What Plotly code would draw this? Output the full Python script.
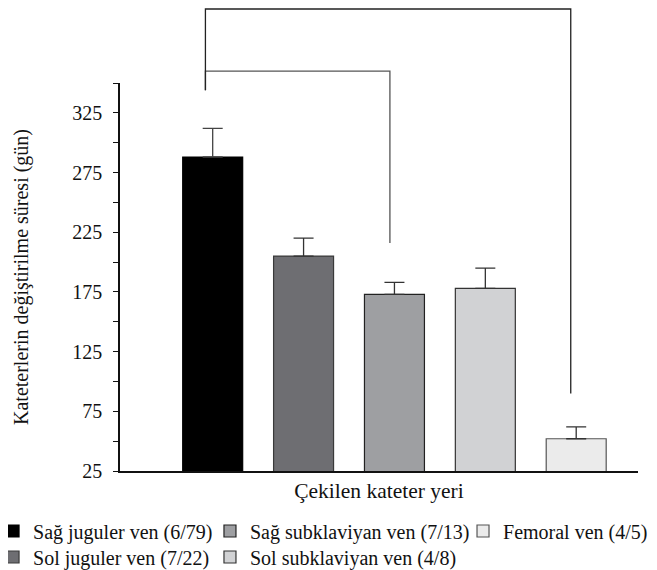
import plotly.graph_objects as go

# ---- data ----
categories = ["Sağ juguler ven (6/79)", "Sol juguler ven (7/22)",
              "Sağ subklaviyan ven (7/13)", "Sol subklaviyan ven (4/8)",
              "Femoral ven (4/5)"]
means = [288, 205, 173, 178, 52]
errors = [24, 15, 10, 17, 10]
bar_colors = ["#000000", "#6e6e72", "#9e9fa2", "#d1d2d4", "#ebebeb"]
line_colors = ["#000000", "#3a3a3a", "#222222", "#333333", "#555555"]

y_major = [25, 75, 125, 175, 225, 275, 325]
y_minor = [50, 100, 150, 200, 250, 300, 350]
y_range = [25, 350]

# significance brackets (x in category units, y in data units)
br_x0 = [-0.08, -0.08]
br_x1 = [1.95, 3.94]
br_top = [360, 412]
br_left_bottom = [344, 344]
br_right_bottom = [216, 90]
br_colors = ["#555555", "#222222"]

# legend placement: (legend id, x paper, y paper)
legend_pos = [("legend", -0.2258, -0.1546), ("legend2", -0.2258, -0.2216),
              ("legend3", 0.1930, -0.1546), ("legend4", 0.1930, -0.2216),
              ("legend5", 0.6815, -0.1546)]

FONT = "Liberation Serif, Tinos, Times New Roman, serif"

fig = go.Figure()
for i, (name, m, e, c, lc) in enumerate(zip(categories, means, errors, bar_colors, line_colors)):
    fig.add_trace(go.Bar(
        x=[i], y=[m], name=name, width=0.66,
        marker=dict(color=c, line=dict(color=lc, width=1.2)),
        error_y=dict(type="data", symmetric=False, array=[e], arrayminus=[0],
                     color="#333333" if i else "#444444", thickness=1.3, width=10),
        legend=legend_pos[i][0],
        hoverinfo="skip",
    ))

def ypap(v):
    return (v - y_range[0]) / (y_range[1] - y_range[0])

shapes = []
for x0, x1, top, lb, rb, col in zip(br_x0, br_x1, br_top, br_left_bottom, br_right_bottom, br_colors):
    path = f"M {x0} {ypap(lb)} L {x0} {ypap(top)} L {x1} {ypap(top)} L {x1} {ypap(rb)}"
    shapes.append(dict(type="path", xref="x", yref="paper", path=path,
                       line=dict(color=col, width=1.3)))

# the page body adds an 8px offset, so the figure is 8px smaller than the window
layout = dict(
    width=649, height=562,
    margin=dict(l=112, r=19, t=75, b=99, autoexpand=False),
    paper_bgcolor="white", plot_bgcolor="white",
    font=dict(family=FONT, size=20, color="#111111"),
    barmode="overlay",
    showlegend=True,
    shapes=shapes,
    xaxis=dict(range=[-1.02, 4.68], showticklabels=False, ticks="", showgrid=False,
               zeroline=False, showline=True, linecolor="#111111", linewidth=1.6,
               title=dict(text="Çekilen kateter yeri", standoff=11,
                          font=dict(family=FONT, size=21.5))),
    yaxis=dict(range=y_range, tickvals=y_major, ticks="outside", ticklen=5,
               tickcolor="#111111", tickwidth=1.3, showgrid=False, zeroline=False,
               showline=True, linecolor="#111111", linewidth=1.6,
               ticklabelstandoff=7,
               minor=dict(tickvals=y_minor, ticks="outside", ticklen=5,
                          tickcolor="#111111", tickwidth=1.3),
               tickfont=dict(family=FONT, size=20),
               title=dict(text="Kateterlerin değiştirilme süresi (gün)", standoff=38,
                          font=dict(family=FONT, size=20))),
)
for lid, lx, ly in legend_pos:
    layout[lid] = dict(x=lx, y=ly, xanchor="left", yanchor="middle", indentation=-10,
                       bgcolor="rgba(0,0,0,0)", font=dict(family=FONT, size=20))
fig.update_layout(**layout)

fig.write_html("out.html")
